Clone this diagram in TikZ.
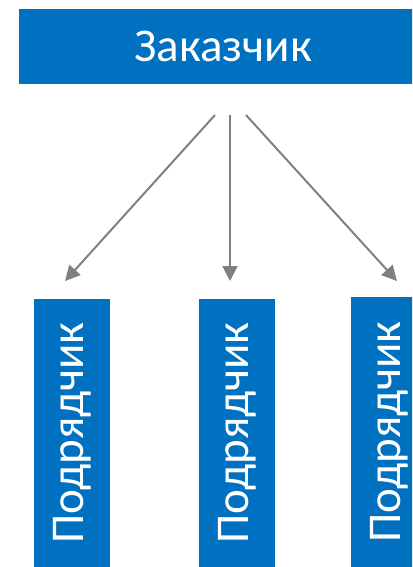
\documentclass[tikz,border=0pt]{standalone}
\usepackage{fontspec}
\setmainfont{Carlito}
\usetikzlibrary{arrows.meta}
\definecolor{boxblue}{HTML}{0070C0}
\definecolor{arrgray}{HTML}{808080}
\begin{document}
\begin{tikzpicture}[x=1pt,y=-1pt,
  bluebox/.style={fill=boxblue,draw=none,inner sep=0pt,text=white,
    font=\fontsize{47}{47}\selectfont},
  arr/.style={draw=arrgray,line width=2pt,-{Triangle[length=15pt,width=15pt]}}]
\useasboundingbox (0,0) rectangle (412,567);
\clip (0,0) rectangle (412,567);
\node[bluebox,minimum width=408pt,minimum height=75pt] (client) at (223,46.5) {Заказчик};
\node[bluebox,minimum width=76pt,minimum height=268pt] (c1) at (72,433) {};
\node[bluebox,minimum width=76pt,minimum height=268pt] (c2) at (237,433) {};
\node[bluebox,minimum width=76pt,minimum height=270pt] (c3) at (389,432) {};
\node[text=white,font=\fontsize{47}{47}\selectfont,rotate=90] (t1) at (c1.center) {Подрядчик};
\node[text=white,font=\fontsize{47}{47}\selectfont,rotate=90] (t2) at (c2.center) {Подрядчик};
\node[text=white,font=\fontsize{47}{47}\selectfont,rotate=90] (t3) at (c3.center) {Подрядчик};
\coordinate (s1) at (215,115);
\coordinate (s2) at (230,115);
\coordinate (s3) at (246,115);
\coordinate (e1) at (65,281);
\coordinate (e2) at (230,281);
\coordinate (e3) at (397,281);
\draw[arr] (s1) -- (e1);
\draw[arr] (s2) -- (e2);
\draw[arr] (s3) -- (e3);
\end{tikzpicture}
\end{document}
